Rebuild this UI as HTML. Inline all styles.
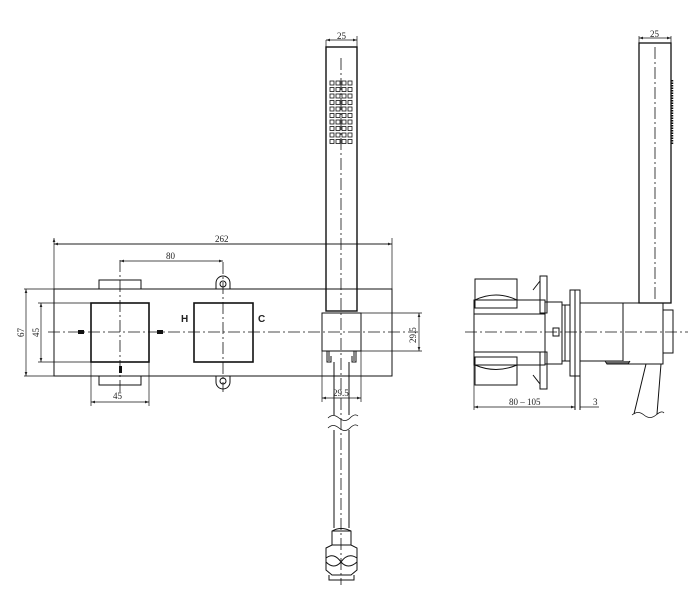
<!DOCTYPE html>
<html><head><meta charset="utf-8"><style>
html,body{margin:0;padding:0;background:#fff;width:700px;height:600px;overflow:hidden}
svg{display:block}
text{font-family:"Liberation Serif",serif;font-size:9px;fill:#222}
</style></head><body>
<svg width="700" height="600" viewBox="0 0 700 600" xmlns="http://www.w3.org/2000/svg">
<defs>
<marker id="a" markerWidth="6" markerHeight="4" refX="6" refY="2" orient="auto-start-reverse"><path d="M0,0 L6,2 L0,4z" fill="#222"/></marker>
</defs>
<g fill="none" stroke="#111" stroke-width="1">
<!-- plate -->
<rect x="54" y="289" width="338" height="87"/>
<!-- tabs -->
<path d="M99,289 V280 H141 V289 M99,376 V385 H141 V376"/>
<!-- squares -->
<rect x="91" y="303" width="58" height="59" stroke-width="1.6"/>
<rect x="194" y="303" width="59" height="59" stroke-width="1.6"/>
<!-- ears -->
<path d="M216,289 V283 A7,7 0 0 1 230,283 V289"/><circle cx="223" cy="284" r="3"/>
<path d="M216,376 V382 A7,7 0 0 0 230,382 V376"/><circle cx="223" cy="381" r="3"/>
<!-- centerlines -->
<path d="M48,332 H418 M120,260 V395 M223,262 V392" stroke-dasharray="12,3,2,3" stroke-width="0.8"/>
<!-- dims -->
<path d="M54,238 V289 M392,238 V289 M54,244 H392" stroke-width="0.7" marker-start="url(#a)"/>
<path d="M54,244 H392" stroke-width="0.7" marker-start="url(#a)" marker-end="url(#a)"/>
<path d="M120,261 H223" stroke-width="0.7" marker-start="url(#a)" marker-end="url(#a)"/>
<path d="M24,289 H54 M24,376 H54 M38,303 H91 M38,362 H91 M91,362 V406 M149,362 V406" stroke-width="0.7"/>
<path d="M26,289 V376" stroke-width="0.7" marker-start="url(#a)" marker-end="url(#a)"/>
<path d="M41,303 V362" stroke-width="0.7" marker-start="url(#a)" marker-end="url(#a)"/>
<path d="M91,402 H149" stroke-width="0.7" marker-start="url(#a)" marker-end="url(#a)"/>
<!-- hand shower left -->
<rect x="326" y="47" width="31" height="264" stroke-width="1.4"/>
<path d="M326,40 V47 M357,36 V47" stroke-width="0.7"/>
<path d="M326,40 H357" stroke-width="0.7" marker-start="url(#a)" marker-end="url(#a)"/>
<rect x="322" y="313" width="39" height="38"/>
<path d="M327,351 V362 H331 V356 M356,351 V362 H352 V356 M329,351 v10 M354,351 v10"/>
<path d="M361,313 H422 M361,351 H422 M322,351 V402 M361,351 V402" stroke-width="0.7"/>
<path d="M419,313 V351" stroke-width="0.7" marker-start="url(#a)" marker-end="url(#a)"/>
<path d="M322,398 H361" stroke-width="0.7" marker-start="url(#a)" marker-end="url(#a)"/>
<!-- hose -->
<path d="M334,362 V415 M349,362 V415 M334,430 V528 M349,430 V528"/>
<path d="M328,418 q5,-5 11,0 t11,0 t8,-2 M328,428 q5,-5 11,0 t11,0 t8,-2" stroke-width="0.8"/>
<path d="M332,545 V531 Q341,526 351,531 V545 M332,531 H351"/>
<path d="M326,548 L332,545 H351 L357,548 V570 L351,575 H332 L326,570Z"/>
<path d="M326,558 Q334,552 341,562 Q348,552 357,558 M326,562 Q334,570 341,562 Q348,570 357,562"/>
<path d="M329,575 V580 H354 V575"/>
<path d="M341,58 V585" stroke-dasharray="12,3,2,3" stroke-width="0.8"/>
<!-- right view -->
<path d="M465,332 H688" stroke-dasharray="12,3,2,3" stroke-width="0.8"/>
<path d="M475,279 V308 H517 V279 Z M475,357 V385 H517 V357 Z"/>
<path d="M475,300 Q496,290 517,300 M475,365 Q496,374 517,365"/>
<rect x="474" y="300" width="71" height="65"/>
<path d="M474,314 H545 M474,352 H545"/>
<rect x="540" y="276" width="7" height="37"/><rect x="540" y="352" width="7" height="37"/>
<path d="M533,290 L540,281 M533,375 L540,384"/>
<rect x="545" y="302" width="17" height="62"/>
<path d="M562,305 H570 V361 H562 M565,305 V361"/>
<rect x="553" y="328" width="6" height="8"/>
<rect x="570" y="290" width="10" height="86"/>
<path d="M575,290 V410 M580,376 V410"/>
<rect x="580" y="303" width="43" height="58"/>
<rect x="623" y="303" width="40" height="61"/>
<path d="M605,361 L607,364 H628 L630,361" fill="#666"/>
<rect x="663" y="310" width="10" height="43"/>
<rect x="639" y="43" width="32" height="260" stroke-width="1.3"/>
<path d="M655,47 V300" stroke-dasharray="12,3,2,3" stroke-width="0.8"/>
<path d="M672,80 V145" stroke-width="2.5" stroke-dasharray="1.5,1"/>
<path d="M639,36 V43 M671,36 V43" stroke-width="0.7"/>
<path d="M639,38 H671" stroke-width="0.7" marker-start="url(#a)" marker-end="url(#a)"/>
<path d="M646,364 L634,414 M661,364 L657,414"/>
<path d="M632,415 q6,-5 12,0 t12,0 t8,-2" stroke-width="0.8"/>
<path d="M474,365 V410" stroke-width="0.7"/>
<path d="M474,407 H575" stroke-width="0.7" marker-start="url(#a)" marker-end="url(#a)"/>
<path d="M580,407 H599" stroke-width="0.7"/>
</g>
<!-- nozzles -->
<g fill="#fff" stroke="#111" stroke-width="0.8">
<g id="row"><rect x="330" y="81" width="4" height="4"/><rect x="336" y="81" width="4" height="4"/><rect x="342" y="81" width="4" height="4"/><rect x="348" y="81" width="4" height="4"/></g>
<use href="#row" y="6.5"/><use href="#row" y="13"/><use href="#row" y="19.5"/><use href="#row" y="26"/><use href="#row" y="32.5"/><use href="#row" y="39"/><use href="#row" y="45.5"/><use href="#row" y="52"/><use href="#row" y="58.5"/>
</g>
<g fill="#111">
<rect x="78" y="330" width="6" height="4"/><rect x="157" y="330" width="6" height="4"/><rect x="119" y="366" width="3" height="7"/>
</g>
<text x="215" y="242">262</text>
<text x="166" y="259">80</text>
<text x="113" y="399">45</text>
<text transform="translate(24,337) rotate(-90)">67</text>
<text transform="translate(39,337) rotate(-90)">45</text>
<text x="181" y="322" style="font-family:'Liberation Sans',sans-serif;font-weight:bold;font-size:10px">H</text>
<text x="258" y="322" style="font-family:'Liberation Sans',sans-serif;font-weight:bold;font-size:10px">C</text>
<text x="337" y="39">25</text>
<text x="650" y="37">25</text>
<text transform="translate(416,343) rotate(-90)">29.5</text>
<text x="333" y="396">29.5</text>
<text x="509" y="405">80 – 105</text>
<text x="593" y="405">3</text>
</svg>
</body></html>
